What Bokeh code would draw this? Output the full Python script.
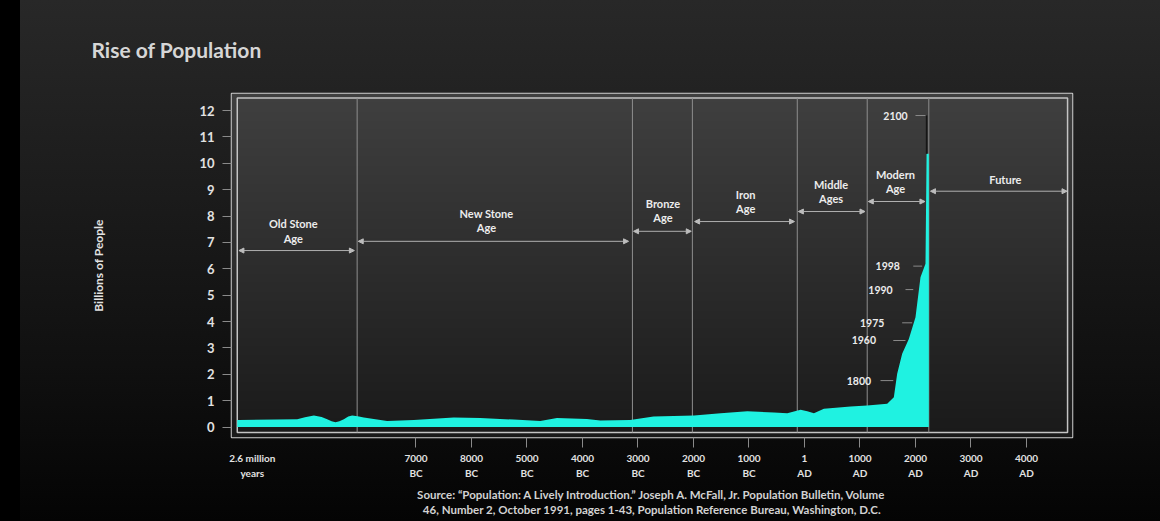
import numpy as np
from bokeh.plotting import figure
from bokeh.models import (FixedTicker, Arrow, NormalHead, InlineStyleSheet, Range1d, Title)
from bokeh.core.properties import value
from bokeh.embed import file_html
from bokeh.resources import INLINE

FONT = "Lato"
CYAN = "#1ff2e1"

# ---- data -----------------------------------------------------------------
# Time axis is in thousands of years (1 AD = 0); everything left of 7000 BC
# is compressed so that 2.6 million years ago sits at -10.
pop_x = [-10.22, -10.19, -9.14, -9.00, -8.84, -8.70, -8.60, -8.52, -8.45, -8.38,
         -8.30, -8.22, -8.15, -8.05, -7.94, -7.52,
         -7.04, -6.32, -5.84, -5.24, -4.76, -4.46, -3.92, -3.68, -3.14, -2.72,
         -1.99, -1.51, -1.03, -0.55, -0.31, -0.07, 0.05, 0.17, 0.35, 0.83,
         1.13, 1.49, 1.61, 1.67, 1.76, 1.88, 2.00, 2.09, 2.18, 2.20, 2.24]
# world population, billions of people
pop_y = [0.27, 0.27, 0.29, 0.37, 0.44, 0.38, 0.29, 0.22, 0.18, 0.22,
         0.29, 0.40, 0.44, 0.41, 0.36, 0.23,
         0.27, 0.36, 0.34, 0.28, 0.23, 0.34, 0.30, 0.25, 0.27, 0.40,
         0.44, 0.52, 0.60, 0.55, 0.52, 0.65, 0.60, 0.52, 0.69, 0.78,
         0.82, 0.88, 1.13, 2.02, 2.78, 3.34, 4.16, 5.68, 6.19, 10.36, 10.36]

# projection up to 2100
proj_x = [2.20, 2.20]
proj_y = [10.36, 11.81]

tick_pos = [-7, -6, -5, -4, -3, -2, -1, 0, 1, 2, 3, 4]
tick_labels = ["7000\nBC", "8000\nBC", "5000\nBC", "4000\nBC", "3000\nBC", "2000\nBC",
               "1000\nBC", "1\nAD", "1000\nAD", "2000\nAD", "3000\nAD", "4000\nAD"]
y_ticks = list(range(0, 13))
origin_pos = -9.95
origin_label = "2.6 million\nyears"

era_names = ["Old Stone\nAge", "New Stone\nAge", "Bronze\nAge", "Iron\nAge",
             "Middle\nAges", "Modern\nAge", "Future"]
era_start = [-10.19, -8.04, -3.08, -1.98, -0.11, 1.15, 2.27]
era_end = [-8.11, -3.17, -2.04, -0.18, 1.09, 2.17, 4.73]
era_bounds = [-8.06, -3.10, -2.02, -0.13, 1.13, 2.24]

year_names = ["2100", "1998", "1990", "1975", "1960", "1800"]
year_level = [11.81, 6.10, 5.21, 3.95, 3.28, 1.76]

source_lines = [
    "Source: \u201cPopulation: A Lively Introduction.\u201d Joseph A. McFall, Jr. Population Bulletin, Volume",
    "46, Number 2, October 1991, pages 1-43, Population Reference Bureau, Washington, D.C.",
]

# ---- layout of annotations -------------------------------------------------
era_arrow_y = [6.69, 7.04, 7.42, 7.79, 8.17, 8.55, 8.94]
era_text_x = [-9.21, -5.73, -2.55, -1.06, 0.48, 1.64, 3.62]
era_text_y = [7.43, 7.84, 8.21, 8.56, 8.94, 9.31, 9.37]

year_text_x = [1.64, 1.50, 1.37, 1.22, 1.07, 0.98]
leader_x0 = [2.00, 1.96, 1.82, 1.76, 1.60, 1.37]
leader_x1 = [2.18, 2.12, 1.96, 1.94, 1.82, 1.60]

X0, X1 = -10.324, 4.829
Y0, Y1 = -0.398, 12.645
IN_L, IN_R, IN_B, IN_T = -10.22, 4.74, -0.209, 12.474

page_css = InlineStyleSheet(css="""
:host {
  background:
    linear-gradient(to right, #000 0px, #000 20px, transparent 20px),
    linear-gradient(to bottom, #282828 0%, #1c1c1c 35%, #101010 70%, #040404 100%);
}
""")

p = figure(width=1160, height=521, x_range=Range1d(X0, X1), y_range=Range1d(Y0, Y1),
           output_backend="svg", toolbar_location=None,
           min_border_left=231, min_border_right=88, min_border_top=93, min_border_bottom=84)
p.stylesheets = [page_css]
p.border_fill_alpha = 0
p.background_fill_color = "#2a2a2a"
p.outline_line_color = "#cfcfcf"
p.outline_line_width = 1.5
p.grid.visible = False

# frame backdrop: vertical gray gradient
n = 256
t = np.linspace(0, 1, n)[:, None]
top_c = np.array([64, 64, 64])
bot_c = np.array([26, 26, 26])
img = np.empty((n, 2), dtype=np.uint32)
view = img.view(dtype=np.uint8).reshape((n, 2, 4))
for k in range(3):
    view[:, :, k] = (bot_c[k] + (top_c[k] - bot_c[k]) * t).astype(np.uint8)
view[:, :, 3] = 255
p.image_rgba(image=[img], x=X0, y=Y0, dw=X1 - X0, dh=Y1 - Y0)

# inner frame line
p.quad(left=IN_L, right=IN_R, bottom=IN_B, top=IN_T, fill_color=None,
       line_color="#c4c4c4", line_width=1.5)

# era boundaries
p.segment(x0=era_bounds, y0=IN_B, x1=era_bounds, y1=IN_T, line_color="#8e8e8e", line_width=1)

# population area
p.varea(x=pop_x, y1=0, y2=pop_y, fill_color=CYAN)
p.line(proj_x, proj_y, line_color="#161616", line_width=1.5)

# era arrows and names
for xs, xe, ya in zip(era_start, era_end, era_arrow_y):
    p.add_layout(Arrow(x_start=xs, y_start=ya, x_end=xe, y_end=ya,
                       start=NormalHead(size=5, fill_color="#bdbdbd", line_color="#bdbdbd"),
                       end=NormalHead(size=5, fill_color="#bdbdbd", line_color="#bdbdbd"),
                       line_color="#b0b0b0", line_width=1))
p.text(x=era_text_x, y=era_text_y, text=era_names, text_font=value(FONT),
       text_font_size="11px", text_font_style="bold", text_color="#ececec",
       text_align="center", text_baseline="middle", text_line_height=1.1)

# year markers along the curve
p.segment(x0=leader_x0, y0=year_level, x1=leader_x1, y1=year_level,
          line_color="#8a8a8a", line_width=1)
p.text(x=year_text_x, y=year_level, text=year_names, text_font=value(FONT),
       text_font_size="10.5px", text_font_style="bold", text_color="#ececec",
       text_align="center", text_baseline="middle")

# axes: tick marks only at the dated positions, labels also at the origin
p.xaxis.ticker = FixedTicker(ticks=[origin_pos] + tick_pos, minor_ticks=tick_pos)
p.xaxis.major_label_overrides = dict(zip([origin_pos] + tick_pos, [origin_label] + tick_labels))
p.xaxis.major_tick_line_color = None
p.xaxis.minor_tick_line_color = "#8a8a8a"
p.xaxis.minor_tick_in = 0
p.xaxis.minor_tick_out = 10
p.yaxis.ticker = FixedTicker(ticks=y_ticks)
p.yaxis.major_tick_line_color = "#8a8a8a"
p.yaxis.minor_tick_line_color = None
for ax in (p.xaxis[0], p.yaxis[0]):
    ax.axis_line_color = None
    ax.major_tick_in = 0
    ax.major_label_text_font = FONT
    ax.major_label_text_font_style = "bold"
    ax.major_label_text_color = "#e2e2e2"
p.xaxis.major_tick_out = 10
p.xaxis.major_label_standoff = 4
p.xaxis.major_label_text_font_size = "10px"
p.xaxis.major_label_text_line_height = 1.25
p.yaxis.major_tick_out = 9
p.yaxis.major_label_standoff = 8
p.yaxis.major_label_text_font_size = "13px"
p.yaxis.axis_label = "Billions of People"
p.yaxis.axis_label_text_font = FONT
p.yaxis.axis_label_text_font_size = "12px"
p.yaxis.axis_label_text_font_style = "bold"
p.yaxis.axis_label_text_color = "#e2e2e2"
p.yaxis.axis_label_standoff = 90

# title and source
p.add_layout(Title(text="Rise of Population", align="left", offset=-140, standoff=63,
                   text_font=FONT, text_font_size="21px", text_font_style="bold",
                   text_color="#d6d6d6"), "above")
for i, line in enumerate(source_lines):
    p.add_layout(Title(text=line, align="center", standoff=8 if i == 0 else -7,
                       text_font=FONT, text_font_size="11.5px", text_font_style="bold",
                       text_color="#d2d2d2"), "below")

open("out.html", "w").write(file_html(p, INLINE))
